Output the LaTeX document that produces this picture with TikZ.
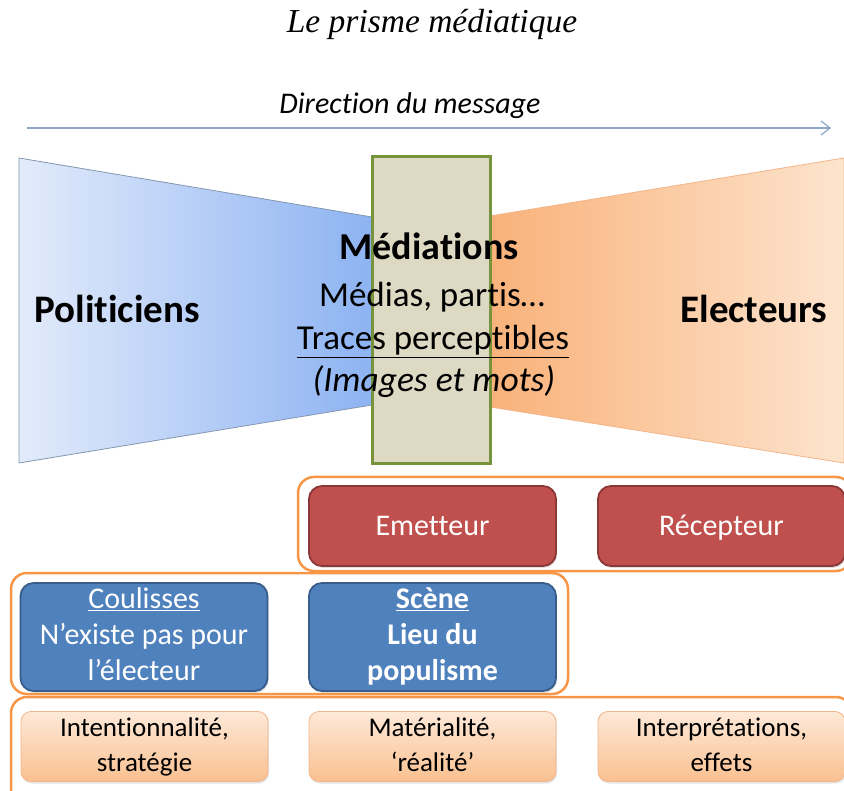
\documentclass[tikz,border=0pt]{standalone}
\usepackage{fontspec}
\setmainfont{Carlito}[Ligatures=NoCommon]
\newfontfamily\titlefont{Liberation Serif}
\usetikzlibrary{arrows.meta,shadows}

\definecolor{redfill}{HTML}{C0504D}
\definecolor{redline}{HTML}{8C3836}
\definecolor{bluefill}{HTML}{4F81BD}
\definecolor{blueline}{HTML}{385D8A}
\definecolor{peachtop}{HTML}{FDE9D9}
\definecolor{peachbot}{HTML}{FAC090}
\definecolor{peachline}{HTML}{F2B58A}
\definecolor{grpline}{HTML}{F79646}
\definecolor{khaki}{HTML}{DDD9C3}
\definecolor{khakiline}{HTML}{77933C}
\definecolor{polleft}{HTML}{E2EBFB}
\definecolor{polright}{HTML}{8DB3F2}
\definecolor{polline}{HTML}{8497B0}
\definecolor{eleleft}{HTML}{F9B27A}
\definecolor{eleright}{HTML}{FDE4CE}
\definecolor{eleline}{HTML}{F2B58A}
\definecolor{dirline}{HTML}{8EA6C6}

\begin{document}
\begin{tikzpicture}[x=1pt,y=-1pt,
    every node/.style={inner sep=0pt},
    group/.style={draw=grpline, line width=2.5pt, rounded corners=16pt},
    redbox/.style={draw=redline, line width=1.8pt, fill=redfill, rounded corners=13pt,
        minimum width=247pt, minimum height=80pt, text=white,
        text height=19pt, text depth=0pt,
        font=\fontsize{30}{36}\selectfont,
        drop shadow={opacity=0.25, shadow xshift=1pt, shadow yshift=-2pt}},
    bluebox/.style={draw=blueline, line width=1.8pt, fill=bluefill, rounded corners=13pt,
        minimum width=247pt, minimum height=108pt, text=white, align=center,
        font=\fontsize{30}{36}\selectfont,
        drop shadow={opacity=0.25, shadow xshift=1pt, shadow yshift=-2pt}},
    peachbox/.style={draw=peachline, line width=0.8pt, top color=peachtop, bottom color=peachbot,
        rounded corners=10pt, minimum width=247pt, minimum height=67pt, align=center,
        font=\fontsize{27}{35}\selectfont,
        drop shadow={opacity=0.2, shadow xshift=1pt, shadow yshift=-2pt}},
    bigword/.style={anchor=base, font=\fontsize{39}{44}\selectfont\bfseries},
    midword/.style={anchor=base, font=\fontsize{35}{44}\selectfont}]
    \useasboundingbox (0,0) rectangle (844,791);
    \clip (0,0) rectangle (844,791);

    % title and direction
    \node[anchor=base, font=\titlefont\itshape\fontsize{33.5}{40}\selectfont] (title) at (432,33) {Le prisme médiatique};
    \node[anchor=base, font=\itshape\fontsize{30}{36}\selectfont] (dir) at (410,114) {Direction du message};
    \coordinate (dstart) at (27,128);
    \coordinate (dend) at (831,128);
    \draw[dirline, line width=1.2pt, -{Straight Barb[length=9pt,width=14pt]}] (dstart) -- (dend);

    % prism
    \draw[polline, line width=0.8pt, left color=polleft, right color=polright]
        (19,158) -- (372,217) -- (372,405) -- (19,463) -- cycle;
    \draw[eleline, line width=0.8pt, left color=eleleft, right color=eleright]
        (490,216) -- (844,158) -- (844,463) -- (490,407) -- cycle;
    \draw[khakiline, line width=3pt, fill=khaki] (372,157) rectangle (490,464);

    \node[bigword] (pol) at (117,323) {Politiciens};
    \node[bigword] (ele) at (754,323) {Electeurs};
    \node[bigword, font=\fontsize{38}{44}\selectfont\bfseries] (med) at (429,260) {Médiations};
    \node[midword] (medias) at (432,307) {Médias, partis…};
    \node[midword] (traces) at (433,350) {\underline{Traces perceptibles}};
    \node[midword, font=\fontsize{35.5}{44}\selectfont\itshape] (images) at (434,392) {(Images et mots)};

    % groups
    \draw[group] (298,477) rectangle (852,571);
    \draw[group] (11,573) rectangle (568,694);
    \draw[group] (11,697) rectangle (852,810);

    \node[redbox] (emet) at (432.5,526) {Emetteur};
    \node[redbox] (recep) at (721.5,526) {Récepteur};
    \node[bluebox] (coul) at (144,637) {\strut\underline{Coulisses}\\N’existe pas pour\\l’électeur\strut};
    \node[bluebox, font=\fontsize{30}{36}\selectfont\bfseries] (scene) at (432.5,637) {\strut\underline{Scène}\\Lieu du\\populisme\strut};
    \node[peachbox] (intent) at (144.5,746.5) {\strut Intentionnalité,\\stratégie\strut};
    \node[peachbox] (mater) at (432.5,746.5) {\strut Matérialité,\\‘réalité’\strut};
    \node[peachbox] (interp) at (721.5,746.5) {\strut Interprétations,\\effets\strut};
\end{tikzpicture}
\end{document}
